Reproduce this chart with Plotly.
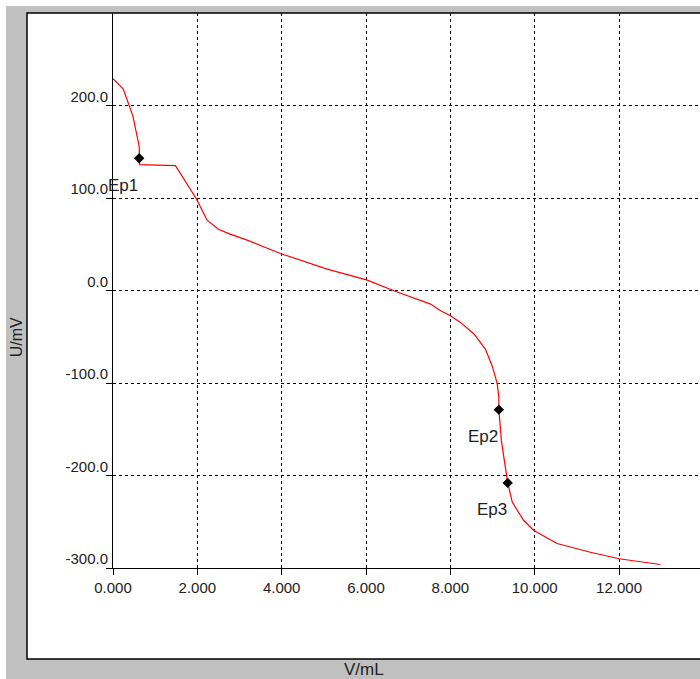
import plotly.graph_objects as go

# Titration curve data (V in mL, U in mV)
volume = [0.00, 0.24, 0.47, 0.57, 0.62, 0.63, 0.63, 1.48, 1.98, 2.23, 2.51, 2.78,
          3.18, 3.97, 5.08, 6.03, 6.66, 7.53, 7.77, 8.00, 8.24, 8.56, 8.83, 8.99,
          9.11, 9.15, 9.15, 9.21, 9.31, 9.36, 9.47, 9.74, 9.98, 10.53, 11.32,
          12.00, 12.98]
potential = [229, 218, 189, 167, 156, 143, 136, 135, 99, 76, 66, 61,
             54.5, 40, 23.1, 11.2, -0.3, -14.7, -21.9, -27.3, -34.5, -47, -63.3, -81.3,
             -100.4, -115.5, -128.8, -162.3, -191, -208, -229, -248.7, -259.5, -273.5, -283,
             -290, -296.2]

# End points
ep_x = [0.62, 9.15, 9.36]
ep_y = [143, -128.8, -208]
ep_labels = ["Ep1", "Ep2", "Ep3"]

x_ticks = [0, 2, 4, 6, 8, 10, 12]
x_tick_text = ["0.000", "2.000", "4.000", "6.000", "8.000", "10.000", "12.000"]
y_ticks = [-300, -200, -100, 0, 100, 200]
y_tick_text = ["-300.0", "-200.0", "-100.0", "0.0", "100.0", "200.0"]

FONT = "Liberation Sans, Arial, sans-serif"
TXT = "#222222"

fig = go.Figure()
fig.add_trace(go.Scatter(x=volume, y=potential, mode="lines",
                         line=dict(color="#ff0000", width=1.2),
                         hoverinfo="skip", showlegend=False))
fig.add_trace(go.Scatter(x=ep_x, y=ep_y, mode="markers",
                         marker=dict(symbol="diamond", size=8, color="black"),
                         showlegend=False))

for ex, ey, lab in zip(ep_x, ep_y, ep_labels):
    fig.add_annotation(x=ex, y=ey, text=lab, showarrow=False,
                       xanchor="right", yanchor="middle", xshift=1, yshift=-27,
                       font=dict(family=FONT, size=17, color=TXT))

# Axis titles
fig.add_annotation(xref="paper", yref="paper", x=-0.165, y=0.416, text="U/mV",
                   textangle=-90, showarrow=False, xanchor="center", yanchor="middle",
                   font=dict(family=FONT, size=16, color=TXT))
fig.add_annotation(xref="paper", yref="paper", x=0.4276, y=-0.182, text="V/mL",
                   showarrow=False, xanchor="center", yanchor="middle",
                   font=dict(family=FONT, size=17, color=TXT))

# Background frames
fig.add_shape(type="rect", xref="paper", yref="paper", x0=-0.1823, x1=1.05,
              y0=-0.25, y1=1.0126, fillcolor="#c0c0c0", line=dict(width=0), layer="below")
fig.add_shape(type="rect", xref="paper", yref="paper", x0=-0.1465, x1=1.05,
              y0=-0.164, y1=1.0, fillcolor="white", line=dict(color="black", width=1.5),
              layer="below")

fig.update_xaxes(range=[0, 13.92], tickvals=x_ticks, ticktext=x_tick_text,
                 showgrid=True, gridcolor="black", griddash="3px,3px", gridwidth=1,
                 showline=True, linecolor="black", linewidth=1,
                 ticks="outside", ticklen=6, tickcolor="black",
                 tickfont=dict(family=FONT, size=15, color=TXT),
                 zeroline=False, fixedrange=True)
fig.update_yaxes(range=[-300, 300], tickvals=y_ticks, ticktext=y_tick_text,
                 showgrid=True, gridcolor="black", griddash="3px,3px", gridwidth=1,
                 showline=True, linecolor="black", linewidth=1,
                 ticks="outside", ticklen=6, tickcolor="black",
                 ticklabelshift=-9, ticklabelstandoff=-5,
                 tickfont=dict(family=FONT, size=15, color=TXT),
                 zeroline=False, fixedrange=True)

fig.update_layout(width=700, height=679, autosize=False,
                  margin=dict(l=113, r=0, t=13, b=111),
                  paper_bgcolor="white", plot_bgcolor="rgba(0,0,0,0)",
                  showlegend=False, hovermode=False)

fig.write_html("out.html", config={"displayModeBar": False},
               post_script="document.body.style.margin='0';document.body.style.overflow='hidden';")
